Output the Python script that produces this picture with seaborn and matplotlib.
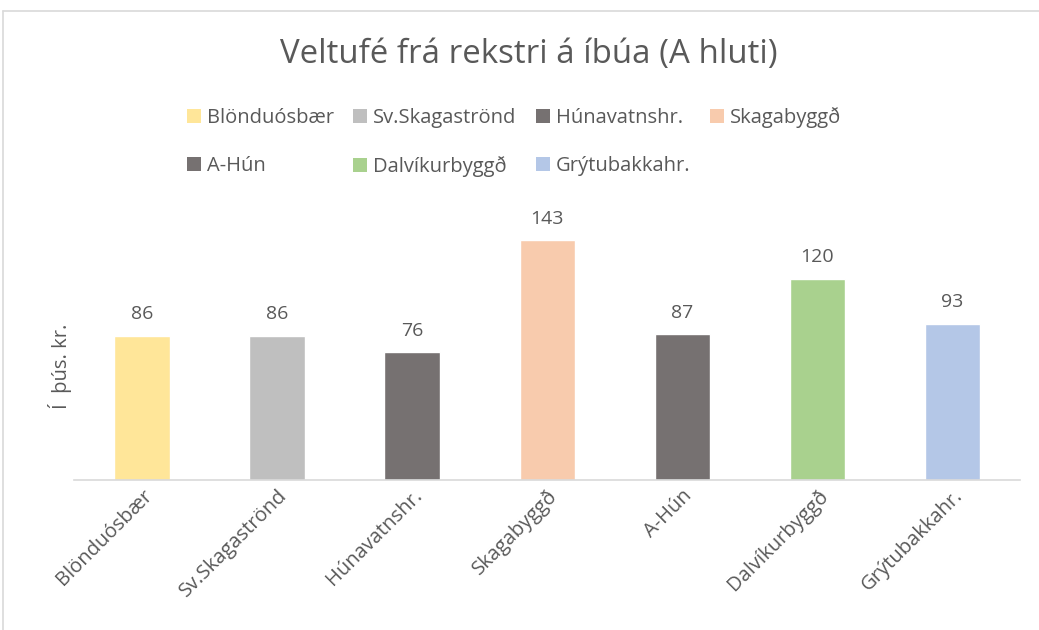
import matplotlib
matplotlib.use("Agg")
import matplotlib.pyplot as plt
import seaborn as sns
import pandas as pd
from matplotlib.patches import Patch
from matplotlib.lines import Line2D

categories = ["Blönduósbær", "Sv.Skagaströnd", "Húnavatnshr.", "Skagabyggð",
              "A-Hún", "Dalvíkurbyggð", "Grýtubakkahr."]
values = [86, 86, 76, 143, 87, 120, 93]
colors = ["#FFE699", "#BFBFBF", "#767171", "#F8CBAD", "#767171", "#A9D18E", "#B4C7E7"]
title = "Veltufé frá rekstri á íbúa (A hluti)"
ylabel = "Í  þús. kr."

sns.set_theme(style="white")
plt.rcParams['font.family'] = ['Open Sans', 'DejaVu Sans']

df = pd.DataFrame({"cat": categories, "val": values})
W, H = 1039, 630
fig = plt.figure(figsize=(W / 100, H / 100), dpi=100)
ax = fig.add_axes([74.5 / W, 1 - 480 / H, (1020 - 74.5) / W, 268.5 / H])

sns.barplot(data=df, x="cat", y="val", hue="cat", palette=colors, order=categories,
            hue_order=categories, dodge=False, width=0.41, legend=False, ax=ax,
            saturation=1)
ax.set_ylim(0, 160)
ax.set_xlim(-0.5, len(categories) - 0.5)
for s in ["top", "right", "left"]:
    ax.spines[s].set_visible(False)
ax.spines["bottom"].set_color("#D9D9D9")
ax.spines["bottom"].set_linewidth(1.2)
ax.set_yticks([])
ax.set_xlabel("")
ax.set_ylabel("")
ax.tick_params(axis="x", length=0, pad=4)
ax.set_xticks(range(len(categories)))
ax.set_xticklabels(categories, rotation=45, ha="right", rotation_mode="anchor",
                   fontsize=14.5, color="#595959")

for c in ax.containers:
    ax.bar_label(c, fmt="%d", padding=9, fontsize=14, color="#595959")

fig.text(529 / W, 1 - 55 / H, title, ha="center", va="center", fontsize=23.8, color="#595959")
fig.text(60 / W, 1 - 366 / H, ylabel, ha="center", va="center", rotation=90,
         fontsize=14.5, color="#595959")

handles = [Patch(facecolor=c, edgecolor="none") for c in colors]
order = [0, 4, 1, 5, 2, 6, 3]
fig.legend([handles[i] for i in order], [categories[i] for i in order], ncol=4,
           loc="center", bbox_to_anchor=(514 / W, 1 - 142 / H), frameon=False,
           fontsize=14.5, labelcolor="#595959", handlelength=0.7, handleheight=0.7,
           handletextpad=0.3, columnspacing=0.95, labelspacing=1.4)

fig.add_artist(Line2D([3 / W, 1], [1 - 11 / H, 1 - 11 / H], color="#D9D9D9", lw=1.2,
                      transform=fig.transFigure))
fig.add_artist(Line2D([3 / W, 3 / W], [0, 1 - 11 / H], color="#D9D9D9", lw=1.2,
                      transform=fig.transFigure))

fig.savefig("out.png", dpi=100)
